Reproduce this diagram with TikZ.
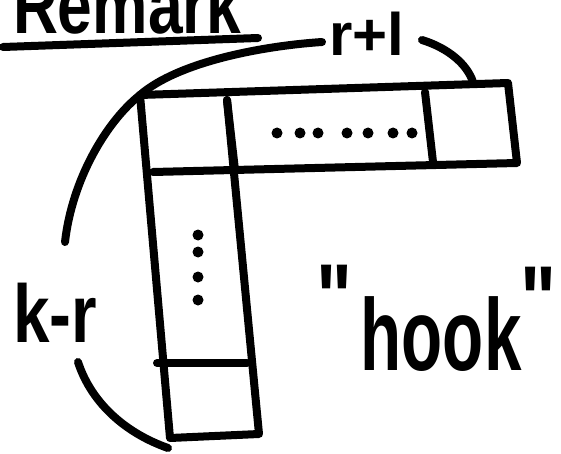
\documentclass[tikz,border=0pt]{standalone}
\usepackage{fontspec}
\setmainfont{Liberation Sans}

\begin{document}
\begin{tikzpicture}[x=1pt,y=-1pt,line width=8pt,line cap=round,line join=round,
  hand/.style={inner sep=0pt,font=\bfseries\fontsize{#1}{#1}\selectfont},
  hand/.default=60]
  \useasboundingbox (0,0) rectangle (561,454);

  % title
  \node[hand=67,anchor=base west] (title) at (9,34) {\scalebox{0.93}[1.2]{Remark}};
  \draw (3,47) -- (258,38);

  % corners of the hook
  \coordinate (tl) at (140,95);
  \coordinate (tr) at (508,83);
  \coordinate (br) at (517,163);
  \coordinate (bl) at (170,438);
  \coordinate (bb) at (259,434);

  % top row
  \draw (tl) -- (tr) -- (br) -- (153,172);
  \draw (227,100) -- (235,170);
  \draw (425,92) -- (433,162);
  \foreach \xx in {277,300,318,347,368,393,412}
    \fill (\xx,133) circle (5.5);

  % first column
  \draw (tl) -- (bl) -- (bb) -- (227,100);
  \draw (157,363) -- (247,363);
  \foreach \yy in {235,252,277,300}
    \fill (198,\yy) circle (5.5);

  % row length
  \node[hand=60,anchor=base] (rlen) at (367,56) {r+l};
  \draw (tl) .. controls (178,62) and (262,46) .. (322,42);
  \draw (422,40) .. controls (448,48) and (467,64) .. (473,82);

  % column length
  \node[hand=82,anchor=base] (clen) at (55,342) {\scalebox{0.8}[1]{k-r}};
  \draw (tl) .. controls (106,122) and (72,180) .. (65,242);
  \draw (78,362) .. controls (92,405) and (128,434) .. (168,448);

  % name
  \node[hand=102,anchor=base] (name) at (441,370) {\scalebox{0.66}[1]{hook}};
  \node[hand=95] (lq) at (335,298) {\scalebox{0.8}[1]{\textquotedbl}};
  \node[hand=95] (rq) at (539,300) {\scalebox{0.8}[1]{\textquotedbl}};
\end{tikzpicture}
\end{document}
